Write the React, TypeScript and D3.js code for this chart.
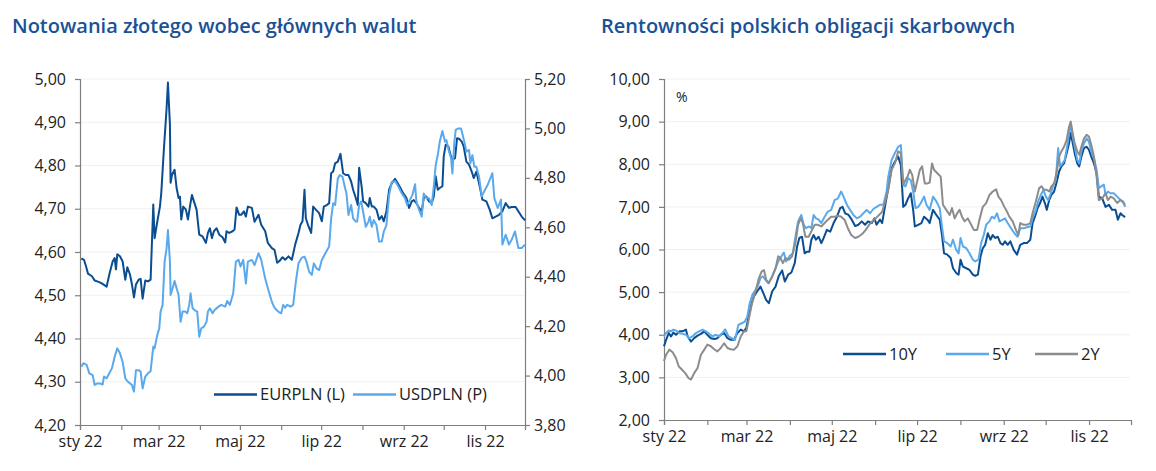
import { useEffect, useRef } from 'react';
import * as d3 from 'd3';

// x values are days since 1 Jan 2022
const START = new Date(2022, 0, 1);
const END = new Date(2022, 11, 1);

const xTickLabels = ['sty 22', '', 'mar 22', '', 'maj 22', '', 'lip 22', '', 'wrz 22', '', 'lis 22'];
const eurTicks = [4.2, 4.3, 4.4, 4.5, 4.6, 4.7, 4.8, 4.9, 5.0];
const usdTicks = [3.8, 4.0, 4.2, 4.4, 4.6, 4.8, 5.0, 5.2];
const yieldTicks = [2, 3, 4, 5, 6, 7, 8, 9, 10];

const eurpln: [number, number][] = [
  [1, 4.585], [3, 4.582], [4.5, 4.567], [6, 4.55], [9, 4.544], [11, 4.534], [14, 4.531], [16, 4.528], [17.5, 4.525],
  [20, 4.52], [22, 4.548], [24.5, 4.578], [26, 4.586], [27, 4.56], [28, 4.595], [30, 4.59], [32, 4.578], [34, 4.536],
  [35.5, 4.565], [37.5, 4.548], [39, 4.525], [40.5, 4.495], [42, 4.525], [44, 4.536], [45.5, 4.538], [47, 4.492],
  [49, 4.534], [51, 4.532], [53, 4.536], [55, 4.71], [56, 4.632], [58, 4.67], [60, 4.705], [61, 4.736], [63, 4.84],
  [65, 4.932], [66, 4.992], [67.5, 4.894], [68, 4.76], [69, 4.778], [71, 4.79], [72.5, 4.748], [74, 4.725], [75, 4.728],
  [76, 4.675], [77.5, 4.705], [79.5, 4.698], [81, 4.675], [82.5, 4.705], [84, 4.732], [85.5, 4.717], [87.5, 4.698],
  [89.5, 4.64], [92, 4.636], [94.5, 4.621], [96, 4.644], [97.5, 4.655], [99, 4.632], [100.5, 4.648], [102.5, 4.655],
  [104.5, 4.64], [107, 4.634], [109, 4.622], [110, 4.648], [112, 4.644], [114.5, 4.648], [116, 4.652], [117.5, 4.703],
  [119.5, 4.686], [121, 4.686], [123, 4.694], [124.5, 4.682], [126, 4.705], [129, 4.702], [131, 4.67], [134, 4.686],
  [136, 4.663], [139, 4.648], [141, 4.621], [144, 4.609], [146, 4.605], [148, 4.575], [150, 4.58], [152, 4.588],
  [154, 4.582], [156.5, 4.59], [159, 4.582], [161.5, 4.617], [164, 4.644], [165.5, 4.663], [167, 4.671], [168.5, 4.744],
  [169.5, 4.678], [171.5, 4.659], [173.5, 4.644], [175, 4.705], [177, 4.698], [179.5, 4.69], [181.5, 4.671], [183, 4.705],
  [185.5, 4.709], [187, 4.713], [188.5, 4.782], [190, 4.786], [191.5, 4.805], [193.5, 4.809], [195.5, 4.827],
  [197.5, 4.782], [199.5, 4.778], [201.5, 4.778], [203.5, 4.763], [205, 4.744], [207, 4.725], [208.5, 4.709],
  [209.5, 4.795], [211.5, 4.748], [212.5, 4.717], [214.5, 4.713], [216.5, 4.705], [217.5, 4.725], [219, 4.705],
  [220.5, 4.705], [222.5, 4.698], [224.5, 4.675], [226.5, 4.683], [228, 4.671], [230, 4.694], [232, 4.744], [234, 4.759],
  [236.5, 4.769], [238.5, 4.759], [240.5, 4.748], [242.5, 4.736], [245, 4.725], [247, 4.702], [249, 4.717], [250.5, 4.72],
  [252.5, 4.713], [254.5, 4.702], [256.5, 4.694], [258, 4.725], [260, 4.728], [262, 4.717], [264, 4.713], [265.5, 4.728],
  [267, 4.775], [268.5, 4.744], [270, 4.748], [272, 4.752], [273, 4.821], [274.5, 4.848], [276.5, 4.844], [278, 4.825],
  [279.5, 4.813], [281.5, 4.817], [283, 4.863], [284.5, 4.862], [286.5, 4.855], [288, 4.844], [290, 4.809], [292, 4.802],
  [294, 4.786], [295.5, 4.771], [297.5, 4.786], [300, 4.752], [302, 4.721], [305, 4.717], [307.5, 4.698], [309.5, 4.678],
  [312, 4.682], [314.5, 4.686], [317, 4.694], [319.5, 4.713], [322, 4.702], [324, 4.704], [327, 4.704], [329, 4.694],
  [331.5, 4.682], [334, 4.673],
];

const usdpln: [number, number][] = [
  [1, 4.036], [2.5, 4.05], [5, 4.043], [7, 4.009], [9.5, 4.002], [11, 3.962], [13, 3.968], [15, 3.968], [17, 3.964],
  [18, 3.996], [20, 3.989], [22, 4.009], [24, 4.03], [26, 4.076], [28, 4.11], [30, 4.09], [32, 4.056], [34, 3.989],
  [36, 3.975], [39, 3.962], [40.5, 3.935], [42, 4.022], [44, 4.022], [45.5, 4.016], [47, 3.948], [49, 3.996], [51, 4.009],
  [53, 4.018], [55, 4.117], [56, 4.11], [58, 4.164], [59.5, 4.191], [60.5, 4.259], [62, 4.286], [63.5, 4.461], [65, 4.515],
  [66, 4.589], [67.5, 4.461], [68, 4.326], [69.5, 4.353], [71, 4.383], [72.5, 4.353], [74, 4.326], [75.5, 4.218],
  [77, 4.259], [79, 4.259], [80.5, 4.252], [82, 4.286], [83, 4.333], [84.5, 4.272], [86, 4.265], [88, 4.259],
  [89.5, 4.157], [91, 4.191], [93, 4.198], [95, 4.218], [96, 4.259], [97.5, 4.272], [99.5, 4.252], [101, 4.265],
  [104, 4.279], [106, 4.286], [109, 4.279], [110.5, 4.302], [112.5, 4.286], [115, 4.333], [117, 4.461], [119, 4.468],
  [120.5, 4.441], [122.5, 4.468], [124.5, 4.373], [126, 4.461], [129, 4.468], [131, 4.447], [134, 4.495], [136, 4.468],
  [139, 4.393], [141, 4.353], [144, 4.299], [145.5, 4.279], [147.5, 4.265], [149.5, 4.256], [151, 4.252], [152.5, 4.286],
  [154, 4.275], [155.5, 4.286], [158, 4.279], [160, 4.286], [162, 4.38], [164, 4.454], [166.5, 4.477], [168.5, 4.481],
  [170, 4.461], [172, 4.42], [174, 4.407], [175.5, 4.454], [177.5, 4.434], [179.5, 4.427], [181.5, 4.468], [183.5, 4.488],
  [185.5, 4.508], [187, 4.522], [188.5, 4.636], [190, 4.697], [191.5, 4.69], [193.5, 4.798], [195, 4.811], [197, 4.805],
  [199, 4.758], [200, 4.737], [201.5, 4.65], [203.5, 4.69], [205, 4.636], [207, 4.623], [208, 4.623], [209.5, 4.69],
  [211, 4.704], [212.5, 4.663], [214.5, 4.602], [216.5, 4.623], [217.5, 4.643], [219, 4.602], [220.5, 4.629],
  [222.5, 4.609], [224.5, 4.542], [226.5, 4.542], [228, 4.582], [230, 4.609], [232, 4.731], [234, 4.782], [236.5, 4.787],
  [239, 4.764], [241.5, 4.737], [244, 4.717], [245.5, 4.69], [247.5, 4.71], [249.5, 4.731], [251.5, 4.774], [252.5, 4.704],
  [254.5, 4.67], [256.5, 4.643], [258, 4.737], [260, 4.717], [262, 4.717], [264, 4.69], [265.5, 4.764], [267, 4.852],
  [268.5, 4.892], [270, 4.946], [272, 4.99], [274, 4.946], [275, 4.953], [277, 4.906], [278.5, 4.879], [279.5, 4.818],
  [281, 4.946], [282, 4.994], [284, 5.0], [286, 5.0], [287.5, 4.967], [289, 4.933], [290, 4.906], [292, 4.913],
  [293, 4.859], [294.5, 4.892], [296, 4.845], [297.5, 4.845], [299.5, 4.805], [301.5, 4.725], [304, 4.752], [306, 4.772],
  [309.5, 4.819], [311, 4.718], [313.5, 4.678], [316, 4.712], [317, 4.53], [319.5, 4.57], [322, 4.53], [324, 4.55],
  [326.5, 4.583], [329, 4.516], [331.5, 4.516], [334, 4.53],
];

const y10: [number, number][] = [
  [0, 3.73], [1.5, 3.88], [3.4, 4.04], [5, 3.96], [6.7, 4.05], [8.6, 4.0], [11, 4.08], [13.3, 4.08], [15.7, 4.12],
  [16.9, 3.96], [19.3, 3.84], [21.6, 3.92], [24, 3.98], [26.4, 4.02], [28.8, 4.08], [31, 4.0], [33.5, 3.92], [35.9, 3.9],
  [38.2, 3.92], [40.6, 4.0], [43, 4.04], [45.4, 3.92], [47.7, 3.88], [50, 3.88], [52.5, 4.04], [54.9, 4.12], [57.2, 4.08],
  [58.9, 4.16], [60.8, 4.47], [62.7, 4.74], [64.3, 4.9], [66.7, 5.02], [69, 5.13], [71.5, 4.94], [73, 4.82], [75, 4.74],
  [77.4, 5.02], [79.8, 5.13], [82, 5.37], [84.5, 5.51], [86.4, 5.25], [88.8, 5.41], [91.1, 5.46], [93.5, 5.68],
  [95.2, 6.07], [96.8, 6.27], [98.7, 6.3], [100.6, 5.91], [102.3, 5.95], [104, 5.95], [105.4, 6.23], [107, 6.34],
  [108.7, 6.23], [110.6, 6.3], [112.5, 6.15], [114.2, 6.27], [116.5, 6.46], [118.9, 6.42], [121.3, 6.62], [123.7, 6.77],
  [126, 6.97], [127.7, 7.0], [129.6, 6.85], [132, 6.81], [134.3, 6.7], [136.7, 6.55], [139, 6.58], [141.4, 6.66],
  [143.8, 6.58], [146, 6.66], [148.6, 6.62], [150.5, 6.73], [152, 6.58], [154.5, 6.7], [156, 6.62], [158, 7.0],
  [160.4, 7.44], [162.8, 7.91], [165.1, 8.06], [167.5, 8.18], [169.4, 7.98], [171.1, 7.0], [172.7, 7.05], [174.6, 7.2],
  [176.5, 7.32], [178.2, 6.93], [179.4, 6.54], [181.8, 6.58], [184.1, 6.62], [186, 6.77], [188.4, 6.7], [190, 6.62],
  [192.4, 6.93], [194.8, 6.81], [197.2, 6.7], [198.8, 6.34], [200.3, 5.91], [202.6, 5.88], [205, 5.8], [206.7, 5.56],
  [209, 5.45], [210.7, 5.41], [212.1, 5.76], [213.8, 5.6], [216.2, 5.56], [218.5, 5.52], [220.9, 5.41], [222.6, 5.38],
  [224.5, 5.41], [226.4, 5.84], [228, 6.03], [229.7, 6.11], [231.6, 6.38], [233.5, 6.23], [235.1, 6.34], [236.8, 6.27],
  [238.7, 6.3], [240.6, 6.15], [242.3, 6.11], [243.9, 6.19], [245.8, 6.11], [247.7, 6.19], [250.1, 5.99], [252.5, 5.88],
  [254.8, 6.11], [257.2, 6.15], [259.6, 6.15], [262, 6.23], [263.6, 6.62], [265.3, 6.77], [267.2, 6.97], [269, 7.09],
  [270.7, 7.24], [272.4, 7.09], [273.8, 6.93], [275.5, 7.16], [277.1, 7.28], [279, 7.36], [280.9, 7.59], [282.6, 7.83],
  [284.2, 7.95], [286.1, 8.02], [288, 8.26], [289.7, 8.49], [290.9, 8.73], [292.1, 8.53], [293.7, 8.26], [295.6, 8.02],
  [297, 7.95], [298.5, 8.18], [300.4, 8.38], [302.3, 8.41], [303.9, 8.34], [305.6, 8.18], [307.5, 8.02], [309.4, 7.79],
  [311, 7.24], [313.4, 7.2], [315.8, 7.0], [318.2, 7.05], [320.5, 6.93], [322.9, 6.93], [324.6, 6.7], [326.5, 6.85],
  [327.7, 6.81], [329.8, 6.76],
];

const y5: [number, number][] = [
  [0, 3.96], [1.5, 4.04], [3.4, 4.1], [5, 4.08], [6.7, 4.12], [8.6, 4.1], [11, 4.04], [13.3, 4.02], [15.7, 4.0],
  [18.1, 3.92], [20.4, 3.96], [22.8, 4.04], [25.2, 4.08], [27.6, 4.12], [29.9, 4.08], [32.3, 4.02], [34.7, 3.96],
  [37.1, 4.0], [39.4, 3.96], [41.8, 4.04], [43.7, 4.13], [46.1, 3.96], [48.4, 3.92], [50.8, 3.88], [53.2, 4.23],
  [55.6, 4.27], [57.9, 4.31], [59.6, 4.43], [61.3, 4.74], [63.2, 4.94], [65.5, 5.05], [67.4, 5.17], [69, 5.33],
  [70.7, 5.37], [72.6, 5.29], [74.5, 5.21], [76.9, 5.33], [79.3, 5.52], [81.7, 5.72], [84, 5.84], [85.7, 5.93],
  [87.4, 5.72], [89.7, 5.84], [92.1, 5.91], [94, 6.3], [95.9, 6.66], [98.2, 6.81], [99.9, 6.58], [101.6, 6.5],
  [103.5, 6.54], [105.4, 6.5], [107, 6.81], [108.7, 6.73], [110.6, 6.7], [112.5, 6.62], [114.9, 6.77], [117.2, 6.89],
  [119.6, 6.93], [122, 7.16], [124.4, 7.2], [126.7, 7.36], [128.4, 7.24], [130.8, 7.05], [133.1, 6.93], [135.5, 6.81],
  [137.9, 6.73], [140.3, 6.77], [142.6, 6.85], [145, 6.93], [147.4, 6.85], [149.7, 6.95], [152.1, 7.0], [154.5, 7.05],
  [156.9, 7.05], [159.2, 7.36], [160.4, 7.71], [162.8, 8.1], [165.1, 8.26], [167.5, 8.41], [169.4, 8.45], [171.1, 7.52],
  [172.7, 7.48], [174.6, 7.67], [176.5, 7.63], [178.2, 7.36], [179.9, 6.97], [181.8, 7.0], [183.7, 7.09], [186, 7.24],
  [187.7, 7.05], [190, 6.93], [192.4, 7.24], [194.8, 7.13], [197.2, 6.97], [198.8, 6.54], [200.3, 6.19], [202.6, 6.15],
  [205, 6.07], [206.7, 6.23], [209, 5.99], [210.7, 5.91], [212.1, 6.27], [213.8, 6.07], [216.2, 6.03], [218.5, 5.91],
  [220.9, 5.76], [222.6, 5.72], [224.9, 5.76], [226.8, 6.15], [228.7, 6.34], [230.4, 6.58], [232.8, 6.66], [234.4, 6.77],
  [236.3, 6.73], [238.2, 6.85], [239.9, 6.66], [242.3, 6.7], [243.9, 6.73], [245.8, 6.62], [248.2, 6.5], [250.6, 6.38],
  [252.9, 6.3], [254.8, 6.5], [257.2, 6.5], [259.6, 6.52], [262, 6.54], [263.6, 6.73], [266, 6.93], [267.6, 7.13],
  [269.5, 7.28], [271.4, 7.4], [273.1, 7.24], [274.8, 7.16], [276.7, 7.32], [278.5, 7.52], [280.2, 7.63], [281.9, 8.38],
  [283.3, 7.95], [285, 8.02], [286.6, 8.1], [288.5, 8.45], [289.7, 8.73], [290.9, 8.92], [292.3, 8.65], [293.7, 8.41],
  [295.6, 8.1], [297, 8.02], [298.5, 8.3], [300.4, 8.49], [302.3, 8.61], [303.9, 8.53], [305.6, 8.3], [307.5, 8.14],
  [309.4, 7.87], [311, 7.44], [312.7, 7.48], [314.6, 7.52], [315.8, 7.28], [317.5, 7.36], [319.4, 7.32], [321.7, 7.32],
  [324.1, 7.24], [326.5, 7.16], [328.4, 7.13], [329.8, 7.0],
];

const y2: [number, number][] = [
  [0, 3.38], [1.5, 3.53], [3.8, 3.65], [6.2, 3.59], [8.6, 3.45], [10.5, 3.26], [12.9, 3.18], [15.2, 3.1], [17.6, 2.98],
  [19.3, 2.95], [21.6, 3.1], [24, 3.22], [26.4, 3.53], [28.8, 3.65], [31.1, 3.77], [33.5, 3.73], [35.9, 3.66],
  [38.2, 3.61], [40.6, 3.69], [43, 3.8], [45.4, 3.69], [47.7, 3.66], [50.1, 3.65], [52.5, 3.73], [54.9, 3.96],
  [57.2, 4.08], [58.9, 4.08], [60.8, 4.39], [62.7, 4.7], [64.3, 4.9], [66, 5.09], [67.9, 5.33], [69.8, 5.48],
  [71.5, 5.52], [73.1, 5.29], [75, 5.21], [77.4, 5.37], [79.8, 5.56], [81.7, 5.84], [83.3, 5.8], [85, 5.68], [86.9, 5.8],
  [89.3, 5.76], [91.6, 5.84], [94, 6.15], [95.9, 6.58], [97.6, 6.73], [99.3, 6.62], [101.1, 6.3], [103.5, 6.3],
  [105.9, 6.46], [107.8, 6.58], [110.1, 6.58], [112.5, 6.54], [114.9, 6.62], [117.2, 6.7], [119.6, 6.77], [122, 6.77],
  [124.4, 6.79], [126.7, 6.77], [129.1, 6.7], [131.5, 6.5], [133.9, 6.34], [136.7, 6.27], [139, 6.3], [141.9, 6.37],
  [144.3, 6.46], [146.7, 6.58], [149, 6.66], [151.4, 6.73], [153.8, 6.81], [156.1, 6.89], [158.5, 7.16], [160.4, 7.4],
  [162.8, 7.87], [165.1, 8.02], [167.5, 8.3], [169.4, 8.26], [171.1, 7.52], [172.7, 7.63], [174.2, 7.71], [175.8, 7.87],
  [177.5, 7.75], [179.4, 7.36], [181.3, 7.63], [183, 7.87], [184.6, 7.95], [186.5, 7.55], [188.4, 7.55], [190, 7.57],
  [191.7, 8.02], [193.1, 7.87], [195.5, 7.79], [197.9, 7.71], [199.5, 7.05], [201.9, 6.93], [204.3, 6.81], [206, 6.97],
  [207.9, 6.73], [209.7, 6.85], [211.4, 6.93], [213.1, 6.77], [215, 6.66], [217.3, 6.73], [219.7, 6.58], [221.6, 6.46],
  [224, 6.46], [225.6, 6.7], [228, 7.0], [230.4, 7.09], [232.8, 7.28], [235.1, 7.36], [237.5, 7.41], [239.2, 7.24],
  [241.1, 7.16], [243.4, 7.0], [245.3, 6.89], [247, 6.77], [249.4, 6.66], [251.7, 6.46], [253.4, 6.34], [254.8, 6.62],
  [257.2, 6.58], [259.6, 6.58], [262, 6.62], [263.6, 6.85], [266, 7.13], [268.3, 7.44], [270, 7.48], [271.9, 7.4],
  [273.8, 7.4], [275.5, 7.36], [277.1, 7.48], [279, 7.55], [280.9, 7.83], [282.6, 8.18], [284.2, 8.3], [286.1, 8.41],
  [288, 8.57], [289.7, 8.88], [290.9, 9.0], [292.3, 8.73], [293.7, 8.49], [295.6, 8.3], [297, 8.22], [298.5, 8.41],
  [300.4, 8.61], [302.3, 8.69], [303.9, 8.65], [305.6, 8.45], [307.5, 8.18], [309.4, 7.71], [311, 7.16], [313.4, 7.2],
  [315.8, 7.32], [317.5, 7.16], [319.4, 7.24], [321.7, 7.2], [324.1, 7.09], [326.5, 7.16], [328.4, 7.1], [329.8, 7.05],
];

const DARK = '#0b4d91';
const LIGHT = '#5aa9ec';
const GREY = '#8c8c8c';
const TITLE = '#1a5196';
const AXIS = '#7f7f7f';
const FONT = '"Open Sans", sans-serif';

const plFormat = d3.formatLocale({ decimal: ',', thousands: ' ', grouping: [3], currency: ['', ' zł'] }).format('.2f');
const dayToDate = (d: number) => new Date(START.getTime() + d * 864e5);

const App = () => {
  const svgRef = useRef<SVGSVGElement>(null);

  useEffect(() => {
    const svg = d3.select(svgRef.current);
    svg.selectAll('*').remove();

    const monthTicks = d3.timeMonth.range(START, new Date(2022, 10, 2));

    const styleAxis = (g: any) => {
      g.select('.domain').attr('stroke', AXIS).attr('stroke-width', 1.2);
      g.selectAll('.tick line').attr('stroke', AXIS).attr('stroke-width', 1.2);
      g.selectAll('.tick text').attr('fill', '#222').style('font-family', FONT).style('font-size', '16px');
    };

    const addTitle = (x: number, text: string) => {
      svg.append('text')
        .attr('x', x).attr('y', 33)
        .attr('fill', TITLE)
        .style('font-family', FONT).style('font-size', '20px').style('font-weight', 600)
        .text(text);
    };

    const addGrid = (y: d3.ScaleLinear<number, number>, ticks: number[], x0: number, x1: number) => {
      svg.append('g').selectAll('line').data(ticks).enter().append('line')
        .attr('x1', x0).attr('x2', x1)
        .attr('y1', d => y(d)).attr('y2', d => y(d))
        .attr('stroke', '#f0f0f0').attr('stroke-width', 1);
    };

    const addLine = (data: [number, number][], x: any, y: any, color: string) => {
      const line = d3.line<[number, number]>()
        .x(d => x(dayToDate(d[0])))
        .y(d => y(d[1]));
      svg.append('path')
        .datum(data)
        .attr('fill', 'none')
        .attr('stroke', color)
        .attr('stroke-width', 2)
        .attr('stroke-linejoin', 'round')
        .attr('d', line);
    };

    const addLegend = (items: { label: string; color: string; x: number }[], y: number) => {
      items.forEach(it => {
        svg.append('line')
          .attr('x1', it.x).attr('x2', it.x + 43).attr('y1', y).attr('y2', y)
          .attr('stroke', it.color).attr('stroke-width', 2.5);
        svg.append('text')
          .attr('x', it.x + 46).attr('y', y).attr('dy', '0.35em')
          .attr('fill', '#222')
          .style('font-family', FONT).style('font-size', '16.5px')
          .text(it.label);
      });
    };

    // Left chart: EURPLN / USDPLN
    addTitle(12, 'Notowania złotego wobec głównych walut');
    const xL = d3.scaleTime().domain([START, END]).range([80, 525]);
    const yEur = d3.scaleLinear().domain([4.2, 5.0]).range([425, 79]);
    const yUsd = d3.scaleLinear().domain([3.8, 5.2]).range([425, 79]);

    addGrid(yEur, eurTicks.slice(1), 81, 524);

    svg.append('g')
      .attr('transform', 'translate(80,0)')
      .call(d3.axisLeft(yEur).tickValues(eurTicks).tickSize(5).tickPadding(9).tickFormat(d => plFormat(d as number)))
      .call(styleAxis);

    svg.append('g')
      .attr('transform', 'translate(525,0)')
      .call(d3.axisRight(yUsd).tickValues(usdTicks).tickSize(5).tickPadding(4).tickFormat(d => plFormat(d as number)))
      .call(styleAxis);

    svg.append('g')
      .attr('transform', 'translate(0,425)')
      .call(d3.axisBottom(xL).tickValues(monthTicks).tickSize(5).tickPadding(6)
        .tickFormat((_d, i) => xTickLabels[i]))
      .call(styleAxis);

    addLine(eurpln, xL, yEur, DARK);
    addLine(usdpln, xL, yUsd, LIGHT);

    addLegend([
      { label: 'EURPLN (L)', color: DARK, x: 214 },
      { label: 'USDPLN (P)', color: LIGHT, x: 353 },
    ], 394.5);

    // Right chart: bond yields
    addTitle(601, 'Rentowności polskich obligacji skarbowych');
    const xR = d3.scaleTime().domain([START, END]).range([664, 1131]);
    const yY = d3.scaleLinear().domain([2, 10]).range([420, 79]);

    addGrid(yY, yieldTicks.slice(1), 665, 1130);

    svg.append('g')
      .attr('transform', 'translate(664,0)')
      .call(d3.axisLeft(yY).tickValues(yieldTicks).tickSize(5).tickPadding(9).tickFormat(d => plFormat(d as number)))
      .call(styleAxis);

    svg.append('g')
      .attr('transform', 'translate(0,420)')
      .call(d3.axisBottom(xR).tickValues(monthTicks).tickSize(5).tickPadding(6)
        .tickFormat((_d, i) => xTickLabels[i]))
      .call(styleAxis);

    svg.append('text')
      .attr('x', 676).attr('y', 102)
      .attr('fill', '#222')
      .style('font-family', FONT).style('font-size', '14px')
      .text('%');

    addLine(y10, xR, yY, DARK);
    addLine(y5, xR, yY, LIGHT);
    addLine(y2, xR, yY, GREY);

    addLegend([
      { label: '10Y', color: DARK, x: 843 },
      { label: '5Y', color: LIGHT, x: 946 },
      { label: '2Y', color: GREY, x: 1035 },
    ], 354);
  }, []);

  return (
    <svg
      ref={svgRef}
      width={1156}
      height={471}
      style={{ position: 'absolute', left: 0, top: 0, background: '#fff' }}
    />
  );
};

export default App;
